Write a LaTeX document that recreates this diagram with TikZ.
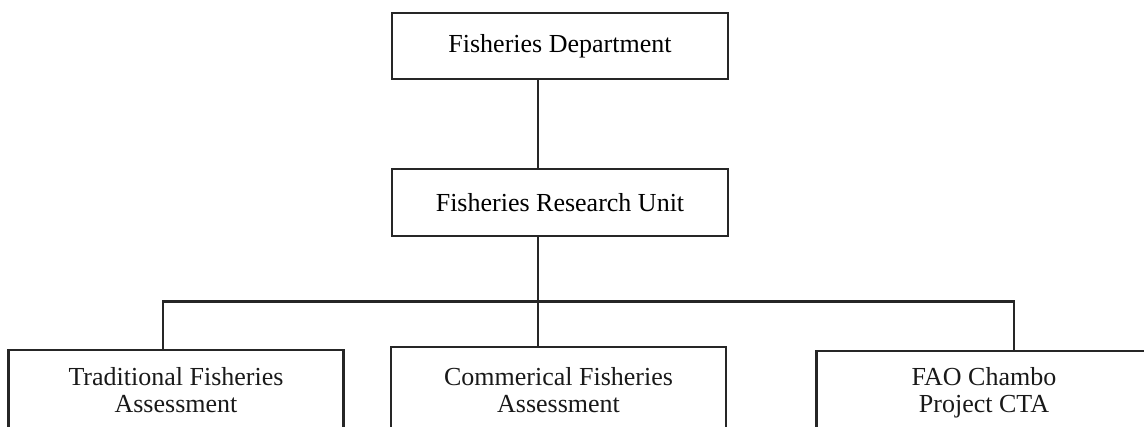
\documentclass[tikz,border=0pt]{standalone}
\usepackage{fontspec}
\setmainfont{Liberation Serif}
\begin{document}
\begin{tikzpicture}[x=1pt,y=-1pt,
  conn/.style={draw=black!85, line width=2.2pt},
  box/.style={draw=black!85, line width=2.2pt, minimum width=336pt, minimum height=66pt, inner sep=0pt, font=\fontsize{26}{27}\selectfont},
  bbox/.style={draw=black!85, line width=2.2pt, minimum width=335pt, minimum height=140pt, inner sep=0pt, anchor=north},
  txt/.style={font=\fontsize{26}{27}\selectfont, align=center, anchor=north, inner sep=0pt, text=black!90}]
\useasboundingbox (0,0) rectangle (1144,427);
\clip (0,0) rectangle (1144,427);
\node[box] (fd) at (560,46) {Fisheries Department};
\node[box, minimum height=67pt] (fru) at (560,202.5) {Fisheries Research Unit};
\node[bbox] (tfa) at (176,349) {};
\node[bbox] (cfa) at (558.5,346) {};
\node[bbox] (fao) at (984,350) {};
\node[txt] (tfat) at (176,367) {Traditional Fisheries\\Assessment};
\node[txt] (cfat) at (558.5,367) {Commerical Fisheries\\Assessment};
\node[txt] (faot) at (984,367) {FAO Chambo\\Project CTA};
\coordinate (vx) at (538,0);
\coordinate (hy) at (0,301.5);
\coordinate (lx) at (163,0);
\coordinate (rx) at (1014,0);
\draw[conn] (fd.south -| vx) -- (fru.north -| vx);
\draw[conn] (fru.south -| vx) -- (cfa.north -| vx);
\draw[conn] (tfa.north -| lx) -- (lx |- hy) -- (rx |- hy) -- (fao.north -| rx);
\end{tikzpicture}
\end{document}
